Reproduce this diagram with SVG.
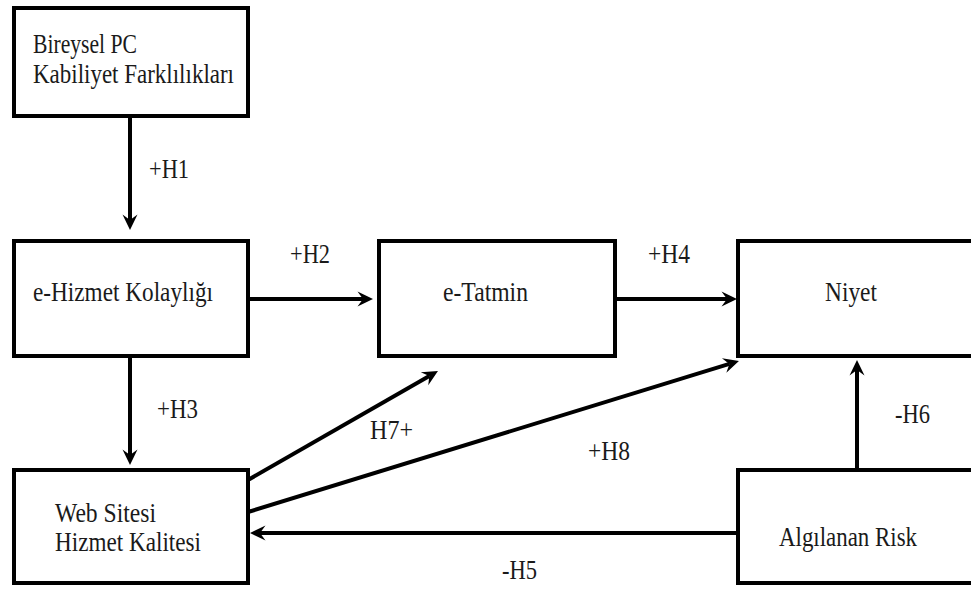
<svg xmlns="http://www.w3.org/2000/svg" width="971" height="589" viewBox="0 0 971 589">
  <style>
    .box { fill: #ffffff; stroke: #000000; stroke-width: 4; }
    .lbl { font-family: "Liberation Serif", "Times New Roman", serif; font-size: 27px; fill: #1a1a1a; }
    .edge { stroke: #000000; stroke-width: 4; fill: none; marker-end: url(#arrow); }
  </style>
  <defs>
    <marker id="arrow" markerUnits="userSpaceOnUse" markerWidth="17" markerHeight="17" viewBox="-16 -8.5 17 17" refX="-10" refY="0" orient="auto">
      <path d="M0,0 L-15.5,-7.5 L-10,0 L-15.5,7.5 Z" fill="#000000"/>
    </marker>
  </defs>
  <rect width="971" height="589" fill="#ffffff"/>

  <!-- connectors -->
  <g id="connectors">
    <line class="edge" x1="130" y1="116" x2="130" y2="220"/>
    <line class="edge" x1="248" y1="299" x2="363" y2="299"/>
    <line class="edge" x1="615" y1="299" x2="727" y2="299"/>
    <line class="edge" x1="130" y1="356" x2="130" y2="455"/>
    <line class="edge" x1="248" y1="480" x2="429.3" y2="376"/>
    <line class="edge" x1="248" y1="512" x2="729.4" y2="363.9"/>
    <line class="edge" x1="857" y1="470" x2="857" y2="370"/>
    <line class="edge" x1="738" y1="533" x2="260" y2="533"/>

    <text class="lbl" x="149" y="178" textLength="40" lengthAdjust="spacingAndGlyphs">+H1</text>
    <text class="lbl" x="290" y="263" textLength="40" lengthAdjust="spacingAndGlyphs">+H2</text>
    <text class="lbl" x="648" y="263" textLength="42" lengthAdjust="spacingAndGlyphs">+H4</text>
    <text class="lbl" x="157" y="418" textLength="41" lengthAdjust="spacingAndGlyphs">+H3</text>
    <text class="lbl" x="370" y="439" textLength="43" lengthAdjust="spacingAndGlyphs">H7+</text>
    <text class="lbl" x="588" y="460" textLength="42" lengthAdjust="spacingAndGlyphs">+H8</text>
    <text class="lbl" x="895" y="423" textLength="35" lengthAdjust="spacingAndGlyphs">-H6</text>
    <text class="lbl" x="502" y="579" textLength="35" lengthAdjust="spacingAndGlyphs">-H5</text>
  </g>

  <!-- nodes -->
  <g id="bireysel">
    <rect class="box" x="14" y="8" width="234" height="108"/>
    <text class="lbl" x="33" y="53" textLength="104" lengthAdjust="spacingAndGlyphs">Bireysel PC</text>
    <text class="lbl" x="33" y="83" textLength="201" lengthAdjust="spacingAndGlyphs">Kabiliyet Farklılıkları</text>
  </g>
  <g id="kolaylik">
    <rect class="box" x="14" y="241" width="234" height="115"/>
    <text class="lbl" x="33" y="301" textLength="180" lengthAdjust="spacingAndGlyphs">e-Hizmet Kolaylığı</text>
  </g>
  <g id="tatmin">
    <rect class="box" x="379" y="241" width="236" height="115"/>
    <text class="lbl" x="443" y="301" textLength="85" lengthAdjust="spacingAndGlyphs">e-Tatmin</text>
  </g>
  <g id="niyet">
    <rect class="box" x="738" y="241" width="240" height="115"/>
    <text class="lbl" x="825" y="301" textLength="52" lengthAdjust="spacingAndGlyphs">Niyet</text>
  </g>
  <g id="kalite">
    <rect class="box" x="14" y="470" width="234" height="113"/>
    <text class="lbl" x="55" y="522" textLength="101" lengthAdjust="spacingAndGlyphs">Web Sitesi</text>
    <text class="lbl" x="55" y="551" textLength="146" lengthAdjust="spacingAndGlyphs">Hizmet Kalitesi</text>
  </g>
  <g id="risk">
    <rect class="box" x="738" y="470" width="240" height="113"/>
    <text class="lbl" x="779" y="546" textLength="138" lengthAdjust="spacingAndGlyphs">Algılanan Risk</text>
  </g>
</svg>
